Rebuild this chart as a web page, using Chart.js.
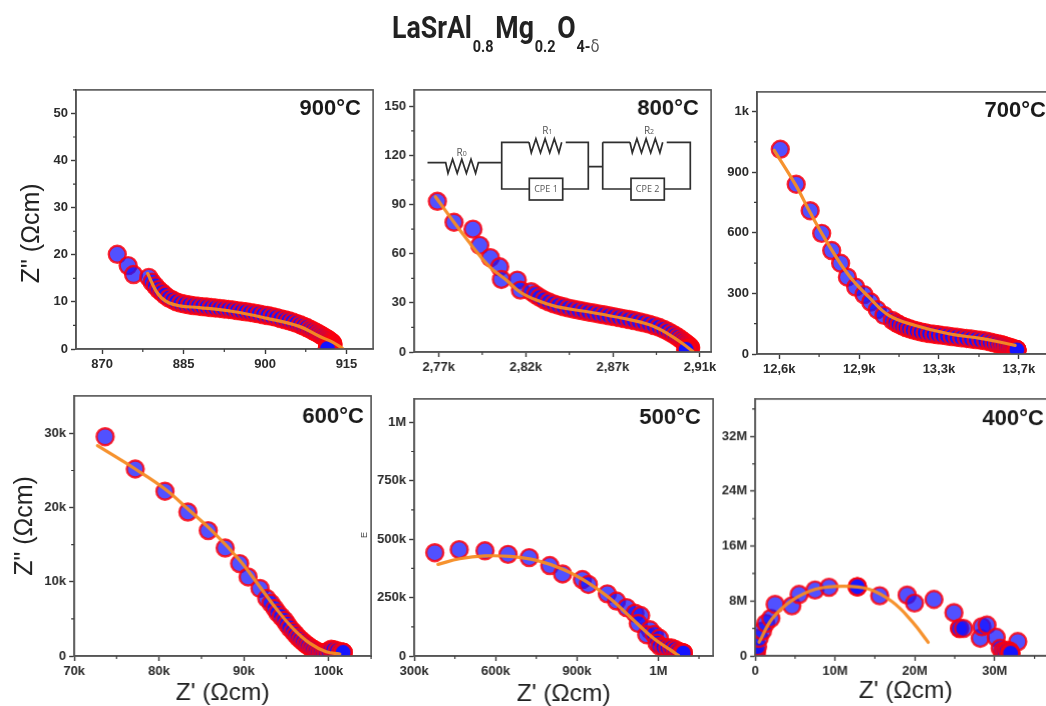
<!DOCTYPE html>
<html><head><meta charset="utf-8">
<script src="https://cdn.jsdelivr.net/npm/chart.js@4"></script>
<style>
html,body{margin:0;padding:0;width:1046px;height:706px;overflow:hidden;background:#fff}
#stage{position:absolute;left:0;top:0;width:1046px;height:706px;overflow:hidden;filter:blur(0.55px)}
canvas{position:absolute}
#title{position:absolute;left:392px;top:9px;white-space:nowrap;font:700 30.5px Roboto,sans-serif;color:#222;transform:scaleX(.875);transform-origin:left top;line-height:38px}
#title span{font-size:16.5px;position:relative;top:14px;margin:0 2px 0 1px;font-weight:700}
#title i{font:400 17px "DejaVu Sans";color:#555}
svg{position:absolute;left:0;top:0}
</style></head><body><div id="stage">
<div id="title">LaSrAl<span>0.8</span>Mg<span>0.2</span>O<span>4-<i>δ</i></span></div>
<canvas id="c900"></canvas><canvas id="c800"></canvas><canvas id="c700"></canvas>
<canvas id="c600"></canvas><canvas id="c500"></canvas><canvas id="c400"></canvas>
<svg width="1046" height="706" fill="none" stroke="#2f2f2f" stroke-width="1.7" font-family="'Open Sans',sans-serif" font-size="9">
<path d="M427.5 162.7H445.7l2.3 10.5 4.6-14 4.6 14 4.6-14 4.6 14 4.6-14 4.6 14 2.8-10.5H501.7"/>
<path d="M529 142.3H501.7V189H529.3M562.7 189H588.3V142.3H565.7M588.3 166.7H602.7M602.7 142.3V189H631M664.3 189H690.3V142.3H666.7M630 142.3H602.7"/>
<path d="M529 142.3l2.3 10.5 4.6-14 4.6 14 4.6-14 4.6 14 4.6-14 4.6 14 2.8-10.5M630 142.3l2.3 10.5 4.6-14 4.6 14 4.6-14 4.6 14 4.6-14 4.6 14 2.8-10.5"/>
<rect x="529.3" y="178.3" width="33.4" height="21.7"/><rect x="631" y="178.3" width="33.3" height="21.7"/>
<g fill="#555" stroke="none" text-anchor="middle">
<text x="461.7" y="155.5" font-size="10">R<tspan font-size="7">0</tspan></text><text x="547.3" y="134" font-size="10">R<tspan font-size="7">1</tspan></text><text x="649" y="134" font-size="10">R<tspan font-size="7">2</tspan></text>
<text x="546" y="192.3">CPE 1</text><text x="647.6" y="192.3">CPE 2</text></g>
</svg>
</div>
<script>
// ---- data: Z' / Z'' ----
const x900=[872.8,874.8,875.8,878.6,879.2,879.8,880.4,881,881.6,882.3,883,883.7,884.5,885.3,886.1,886.9,887.7,888.5,889.3,890.1,890.9,891.7,892.5,893.3,894.1,894.9,895.7,896.5,897.3,898.1,898.9,899.7,900.5,901.3,902.1,902.9,903.7,904.4,905.1,905.8,906.5,907.1,907.7,908.3,908.8,909.3,909.8,910.2,910.6,911,911.4,911.7,912,912.2,912.4,912.5,912.5,912.4,912.2,912,911.8,911.6,911.5,911.5,911.5,911.5,911.5];
const y900=[20.1,17.7,15.8,15.2,14.2,13.4,12.6,12,11.4,10.8,10.4,10,9.7,9.5,9.35,9.2,9.1,9,8.9,8.8,8.7,8.6,8.5,8.4,8.3,8.15,8,7.9,7.75,7.6,7.45,7.25,7.1,6.9,6.7,6.45,6.2,6,5.75,5.45,5.15,4.85,4.55,4.2,3.9,3.6,3.3,3,2.75,2.45,2.2,1.95,1.7,1.5,1.3,1.1,.9,.75,.6,.5,.4,.3,.2,.15,.1,.1,.1];
const fx900=[878.4,880,881.8,884.3,887.9,894.1,900.2,906.3,910,912.5,914.3];
const fy900=[16.05,12.2,10.1,9.15,8.8,7.96,6.55,4.8,2.7,1.4,0.1];

const x800=[2774.3,2782.9,2792.7,2796.2,2801.7,2806.5,2807.4,2815.6,2817.2,2822.8,2825,2827.2,2829.5,2832,2834.5,2837,2839.6,2842.2,2844.8,2847.4,2850,2852.6,2855.2,2857.8,2860.4,2863,2865.6,2868.2,2870.8,2873.4,2876,2878.6,2881.2,2883.8,2886.3,2888.8,2891.2,2893.4,2895.4,2897.2,2898.8,2900.2,2901.4,2902.5,2903.5,2904.3,2904.9,2905.2,2905,2904.4,2903.7,2903.2,2902.9,2902.9,2902.9,2902.9];
const y800=[92,79.2,75,65.1,57.6,52,44.3,43.9,37.8,36.8,35,33.3,31.8,30.5,29.4,28.4,27.6,26.8,26.1,25.5,24.9,24.3,23.8,23.2,22.7,22.1,21.6,21,20.4,19.8,19.2,18.5,17.8,17,16.1,15.1,13.9,12.7,11.4,10.1,8.9,7.7,6.6,5.6,4.7,3.9,3.2,2.7,2.3,2,1.8,1.7,1.6,1.6,1.6,1.6];
const fx800=[2773.3,2782.9,2792.7,2801.3,2809.9,2816.8,2825.4,2835.8,2851.2,2870.2,2884,2894.3,2901.2,2906.3];
const fy800=[94.8,79.2,64,52,43.9,36.8,31.7,27.7,24.7,20.6,16.6,10.5,5,0.4];

const x700=[12605,12678,12742,12795,12841,12882,12913,12951,12989,13020,13050,13081,13119,13135,13150,13166,13182,13198,13215,13233,13251,13270,13290,13310,13330,13350,13372,13394,13416,13438,13460,13482,13504,13526,13548,13568,13586,13602,13617,13630,13642,13654,13665,13675,13684,13691,13691,13691,13691];
const y700=[1013,840,709,597,512,449,380,331,294,257,219,191,166,155,146,138,131,125,119,114,109,105,101,98,95,92,89,86,83,80,77,74,71,68,65,60,55,51,47,43,39,35,31,27,24,21,21,21,21];
const fx700=[12577,12678,12742,12829,12920,13012,13103,13225,13378,13531,13683];
const fy700=[1008,832,700,536,388,281,191,141,100,76,43];

const x600=[73.65,77.2,80.7,83.4,85.8,87.8,89.5,90.5,91.9,92.7,93.2,93.65,94.0,94.4,94.8,95.1,95.4,95.8,96.1,96.4,96.7,97,97.3,97.6,97.9,98.2,98.5,98.8,99.1,99.4,99.7,100,100.3,100.6,101,101.4,101.7,101.7,101.7];
const y600=[29.55,25.2,22.2,19.4,16.9,14.55,12.45,10.65,9.1,7.75,7.1,6.4,5.8,5.3,4.8,4.3,3.8,3.3,2.9,2.5,2.2,1.9,1.6,1.35,1.1,0.9,0.7,0.55,0.45,0.4,0.5,0.7,0.9,0.85,0.7,0.55,0.5,0.5,0.5];
const fx600=[72.75,77.2,80.7,83.4,86.4,89.5,91.9,93.8,95.8,97.8,99.7,101.3];
const fy600=[28.35,25.2,22.5,19.8,16.7,12.9,9.3,6.4,3.7,1.7,0.58,0.27];

const x500=[376,466,561,646,724,800,847,920,942,1012,1046,1083,1114,1135,1126,1169,1157,1185,1204,1195,1206,1220,1235,1249,1262,1274,1285,1292,1292,1292];
const y500=[442,455,450,435,421,387,351,327,306,266,235,207,183,173,139,112,91,92,76,55,41,38,35,34,28,20,16,13,13,13];
const fx500=[388,468,561,653,751,850,936,1022,1108,1182,1243,1274];
const fy500=[392,416,428,426,409,370,317,246,154,76,27,3];

const x400=[0.05,0.05,0.08,0.17,0.3,0.5,0.92,1.33,1.96,2.5,4.6,5.5,7.5,9.25,12.8,12.8,12.8,15.6,19.04,19.96,22.4,24.9,25.6,25.6,26.1,28.2,28.4,29.04,30.2,30.7,32.9,31,31.3,31.6,31.9,32,32,32,32];
const y400=[0.05,0.1,0.15,0.63,1.35,2.56,3.63,4.74,5.47,7.5,7.3,8.95,9.6,10.0,10.07,10.07,10.07,8.76,8.86,7.7,8.23,6.3,4.0,4.0,4.0,2.57,4.26,4.5,2.7,1.1,2.08,0.7,0.63,0.8,0.7,0.39,0.39,0.39,0.39];
const fx400=[0.5,2.17,4.67,7.58,10.9,14.25,17.17,19.67,21.67];
const fy400=[2,5.47,8.13,9.73,10.16,9.73,7.89,4.99,1.98];

const temps=['900°C','800°C','700°C','600°C','500°C','400°C'];
const xTicks900=[870,885,900,915], xLabels900=['870','885','900','915'], xMinor900=[877.5,892.5,907.5];
const yTicks900=[0,10,20,30,40,50], yLabels900=['0','10','20','30','40','50'], yMinor900=[5,15,25,35,45,55];
const xTicks800=[2775,2820,2865,2910], xLabels800=['2,77k','2,82k','2,87k','2,91k'], xMinor800=[2797.5,2842.5,2887.5];
const yTicks800=[0,30,60,90,120,150], yLabels800=['0','30','60','90','120','150'], yMinor800=[15,45,75,105,135];
const xTicks700=[12600,12967,13333,13700], xLabels700=['12,6k','12,9k','13,3k','13,7k'], xMinor700=[12783,13150,13517];
const yTicks700=[0,300,600,900,1200], yLabels700=['0','300','600','900','1k'], yMinor700=[150,450,750,1050];
const xTicks600=[70,80,90,100], xLabels600=['70k','80k','90k','100k'], xMinor600=[75,85,95,105];
const yTicks600=[0,10,20,30], yLabels600=['0','10k','20k','30k'], yMinor600=[5,15,25];
const xTicks500=[300,600,900,1200], xLabels500=['300k','600k','900k','1M'], xMinor500=[450,750,1050,1350];
const yTicks500=[0,250,500,750,1000], yLabels500=['0','250k','500k','750k','1M'], yMinor500=[125,375,625,875];
const xTicks400=[0,10,20,30], xLabels400=['0','10M','20M','30M'], xMinor400=[5,15,25,35];
const yTicks400=[0,8,16,24,32], yLabels400=['0','8M','16M','24M','32M'], yMinor400=[4,12,20,28,36];

const zip=(a,b)=>a.map((v,i)=>({x:v,y:b[i]}));
const AXIS='#555', TICK='#3a3a3a', LAB='#2b2b2b';
const Y_W=70,X_H=60,PAD_T=10,PAD_R=10;

const panelFrame={
 id:'panelFrame',
 afterDatasetsDraw(c,_,o){
  const a=c.chartArea,g=c.ctx;
  g.save();g.strokeStyle=AXIS;g.lineWidth=1.6;g.strokeRect(a.left,a.top,a.right-a.left,a.bottom-a.top);
  g.strokeStyle=TICK;g.lineWidth=1.2;g.beginPath();
  o.xMinor.forEach(v=>{const p=c.scales.x.getPixelForValue(v);g.moveTo(p,a.bottom);g.lineTo(p,a.bottom+3);});
  o.yMinor.forEach(v=>{const p=c.scales.y.getPixelForValue(v);g.moveTo(a.left,p);g.lineTo(a.left-3,p);});
  g.stroke();
  g.fillStyle='#1a1a1a';g.font='700 22px "Liberation Sans",Arial,sans-serif';g.textAlign='right';g.textBaseline='alphabetic';
  g.fillText(o.temp,o.tx-c.canvas.offsetLeft,o.ty-c.canvas.offsetTop);
  if(o.stray){g.translate(o.stray[0]-c.canvas.offsetLeft,o.stray[1]-c.canvas.offsetTop);g.rotate(-Math.PI/2);g.font='9px "Liberation Sans"';g.fillStyle='#444';g.textAlign='center';g.fillText('E',0,0);}
  g.restore();
 }
};

function panel(id,temp,rect,xr,yr,pts,fit,xt,xl,xm,yt,yl,ym,tp,ytitle,xtitle,stray){
 const [L,T,R,B]=rect, cv=document.getElementById(id);
 const W=R-L+Y_W+PAD_R,H=B-T+PAD_T+X_H;
 cv.width=W;cv.height=H;cv.style.left=(L-Y_W)+'px';cv.style.top=(T-PAD_T)+'px';cv.style.width=W+'px';cv.style.height=H+'px';
 const font={family:'"Liberation Sans",Arial,sans-serif',size:13,weight:'700'};
 const mk=(ticks,labels,min,max)=>({
  type:'linear',min,max,
  afterBuildTicks:s=>{s.ticks=ticks.map(v=>({value:v}));},
  ticks:{callback:v=>labels[ticks.indexOf(v)]??'',autoSkip:false,maxRotation:0,minRotation:0,color:LAB,font,padding:3},
  grid:{drawOnChartArea:false,drawTicks:true,tickLength:5,tickColor:TICK,tickWidth:1.4},
  border:{display:true,color:AXIS,width:1.6}
 });
 const xs=mk(xt,xl,xr[0],xr[1]), ys=mk(yt,yl,yr[0],yr[1]);
 xs.afterFit=s=>{s.height=X_H;}; ys.afterFit=s=>{s.width=Y_W;};
 if(ytitle) ys.title={display:true,text:ytitle[0],color:'#222',font:{family:font.family,size:25,weight:'400'},padding:{top:ytitle[1]-(L-Y_W)-15,bottom:0}};
 if(xtitle) xs.title={display:true,text:xtitle[0],color:'#222',font:{family:font.family,size:24.5,weight:'400'},padding:{top:0,bottom:(B+X_H)-xtitle[1]-14.7}};
 new Chart(cv,{type:'scatter',
  data:{datasets:[
   {label:'data',data:pts,showLine:false,pointRadius:8.5,pointHoverRadius:8.5,pointBorderWidth:2.4,pointBackgroundColor:'rgba(20,20,255,0.74)',pointBorderColor:'rgba(255,0,10,0.82)',clip:0,order:2},
   {label:'fit',data:fit,showLine:true,pointRadius:0,borderColor:'rgba(245,140,35,0.95)',borderWidth:3.2,tension:0.4,borderCapStyle:'round',clip:0,order:1}
  ]},
  options:{responsive:false,animation:false,devicePixelRatio:1,
   layout:{padding:{top:PAD_T,right:PAD_R,left:0,bottom:0}},
   scales:{x:xs,y:ys},
   plugins:{legend:{display:false},tooltip:{enabled:false},
    panelFrame:{temp,tx:tp[0],ty:tp[1],xMinor:xm,yMinor:ym,stray}}},
  plugins:[panelFrame]});
}
const YT='Z" (Ωcm)    ',YT4='Z" (Ωcm)',XT="Z' (Ωcm)";
panel('c900',temps[0],[76,89,374,349.3],[865.2,919.9],[0,55],zip(x900,y900),zip(fx900,fy900),xTicks900,xLabels900,xMinor900,yTicks900,yLabels900,yMinor900,[361,115],[YT,32],null);
panel('c800',temps[1],[414.3,89,711.7,352.3],[2762.3,2915.8],[0,160],zip(x800,y800),zip(fx800,fy800),xTicks800,xLabels800,xMinor800,yTicks800,yLabels800,yMinor800,[698,114.5],null,null);
panel('c700',temps[2],[757,90.7,1057,353.7],[12498,13871],[0,1297],zip(x700,y700),zip(fx700,fy700),xTicks700,xLabels700,xMinor700,yTicks700,yLabels700,yMinor700,[1046,116.5],null,null);
panel('c600',temps[3],[74,395,371.7,656],[70,105],[0,35.05],zip(x600,y600),zip(fx600,fy600),xTicks600,xLabels600,xMinor600,yTicks600,yLabels600,yMinor600,[363,422.5],[YT4,25],[XT,693],[366,535]);
panel('c500',temps[4],[414.3,397.7,713.7,656.3],[300,1402],[0,1100],zip(x500,y500),zip(fx500,fy500),xTicks500,xLabels500,xMinor500,yTicks500,yLabels500,yMinor500,[700,424],null,[XT,695]);
panel('c400',temps[5],[755.3,398.3,1057,656],[0,37.7],[0,37.46],zip(x400,y400),zip(fx400,fy400),xTicks400,xLabels400,xMinor400,yTicks400,yLabels400,yMinor400,[1043,425],null,[XT,691]);
</script></body></html>
